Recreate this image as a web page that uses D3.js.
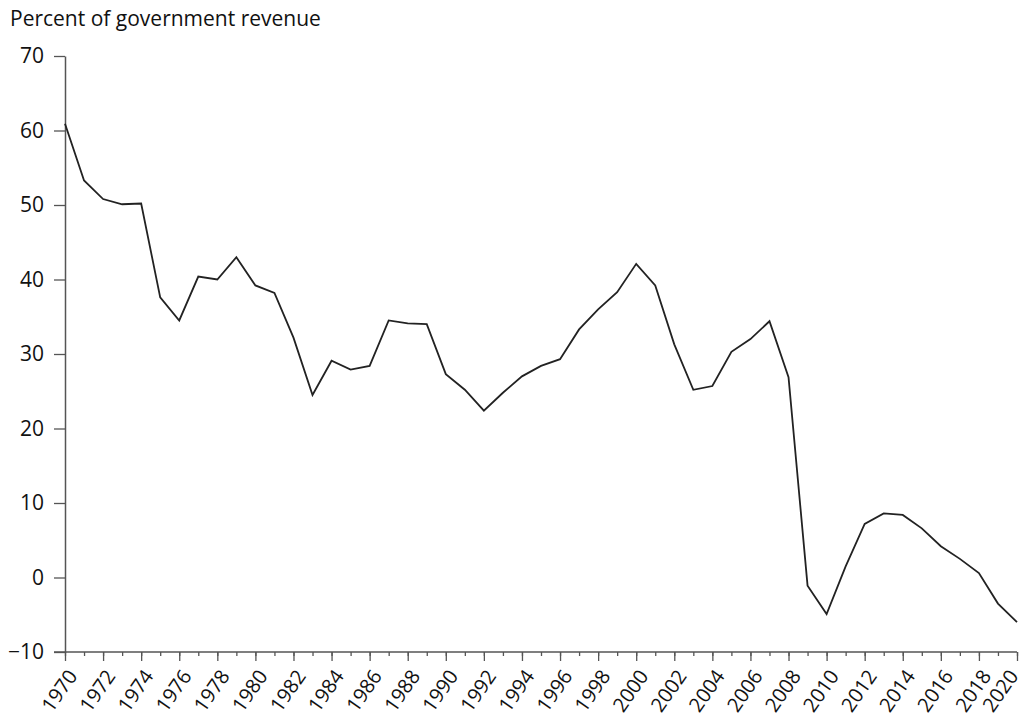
<!DOCTYPE html>
<html>
<head>
<meta charset="utf-8">
<script src="https://cdn.jsdelivr.net/npm/d3@7"></script>
<style>
  body { margin: 0; background: #fff; }
  svg { font-family: "Open Sans", "Noto Sans", sans-serif; }
</style>
</head>
<body>
<div id="chart"></div>
<script>
// Data
// ================================
var years = d3.range(1970, 2021);
var revenueShare = [
  60.9, 53.3, 50.8, 50.1, 50.2, 37.6, 34.5, 40.4, 40.0, 43.0,
  39.2, 38.2, 32.2, 24.5, 29.1, 27.9, 28.4, 34.5, 34.1, 34.0,
  27.3, 25.2, 22.4, 24.8, 27.0, 28.4, 29.3, 33.3, 36.0, 38.3,
  42.1, 39.2, 31.3, 25.2, 25.7, 30.3, 32.0, 34.4, 26.9, -1.1,
  -4.9, 1.5, 7.2, 8.6, 8.4, 6.6, 4.2, 2.5, 0.6, -3.5,
  -6.0
];
var yTicks = [-10, 0, 10, 20, 30, 40, 50, 60, 70];
var xLabelYears = years.filter(d => d % 2 === 0);

// Set up chart
// ================================
var svgWidth = 1023;
var svgHeight = 718;

var margin = { top: 56, right: 6, bottom: 66, left: 65 };
var width = svgWidth - margin.left - margin.right;
var height = svgHeight - margin.top - margin.bottom;

var fontFamily = "'Open Sans', 'Noto Sans', sans-serif";
var axisColor = "#555";
var fontSize = "21px";

var svg = d3.select("#chart")
  .append("svg")
  .attr("width", svgWidth)
  .attr("height", svgHeight);

var chartGroup = svg.append("g")
  .attr("transform", `translate(${margin.left}, ${margin.top})`);

var xScale = d3.scaleLinear()
  .domain([1970, 2020])
  .range([0, width]);

var yScale = d3.scaleLinear()
  .domain([-10, 70])
  .range([height, 0]);

// minor ticks, every year
chartGroup.append("g")
  .attr("transform", `translate(0, ${height})`)
  .call(d3.axisBottom(xScale).tickValues(years).tickSize(4).tickFormat(""))
  .call(g => g.select(".domain").remove())
  .call(g => g.selectAll("line").attr("stroke", axisColor).attr("stroke-width", 1.3));

// major ticks and labels (rotated)
var xAxis = chartGroup.append("g")
  .attr("transform", `translate(0, ${height})`)
  .call(d3.axisBottom(xScale).tickValues(xLabelYears).tickSize(9).tickSizeOuter(0).tickFormat(d3.format("d")))
  .attr("font-family", fontFamily);

xAxis.select(".domain").remove();
xAxis.selectAll("line").attr("stroke", axisColor).attr("stroke-width", 1.3);
xAxis.selectAll("text")
  .attr("font-size", "20px")
  .attr("fill", "#111")
  .attr("text-anchor", "end")
  .attr("dy", "0.35em")
  .attr("y", 0)
  .attr("transform", d => `translate(${d === 2020 ? -4 : 7}, 20) rotate(-55)`);

// x axis line
chartGroup.append("line")
  .attr("x1", -11)
  .attr("x2", width)
  .attr("y1", height)
  .attr("y2", height)
  .attr("stroke", axisColor)
  .attr("stroke-width", 1.5);

// y axis
var yAxis = chartGroup.append("g")
  .call(d3.axisLeft(yScale).tickValues(yTicks).tickSize(11).tickSizeOuter(0).tickFormat(d => d < 0 ? "\u2212" + Math.abs(d) : d))
  .attr("font-family", fontFamily);

yAxis.select(".domain").attr("stroke", axisColor).attr("stroke-width", 1.5);
yAxis.selectAll("line").attr("stroke", axisColor).attr("stroke-width", 1.3);
yAxis.selectAll("text")
  .attr("font-size", fontSize)
  .attr("fill", "#111")
  .attr("x", -21);

// the line
var line = d3.line()
  .x((d, i) => xScale(years[i]))
  .y(d => yScale(d));

chartGroup.append("path")
  .datum(revenueShare)
  .attr("fill", "none")
  .attr("stroke", "#222")
  .attr("stroke-width", 1.8)
  .attr("stroke-linejoin", "miter")
  .attr("d", line);

// unit label
svg.append("text")
  .attr("x", 10)
  .attr("y", 26)
  .attr("font-size", fontSize)
  .attr("fill", "#111")
  .text("Percent of government revenue");
</script>
</body>
</html>
